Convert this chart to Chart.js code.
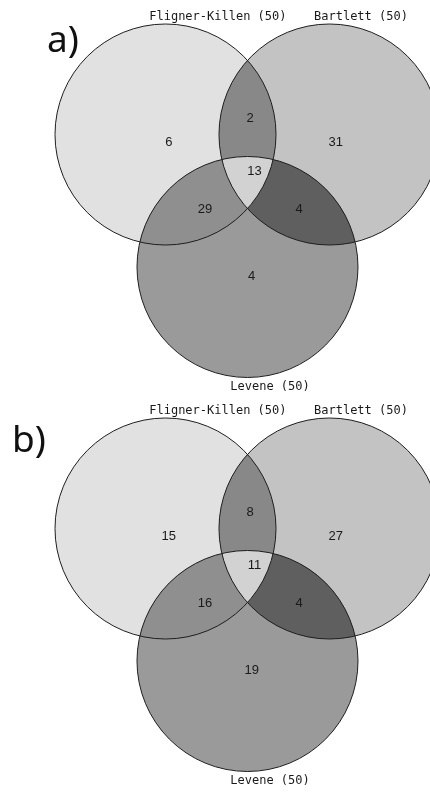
<!DOCTYPE html>
<html>
<head>
<meta charset="utf-8">
<script src="https://cdn.jsdelivr.net/npm/chart.js@4/dist/chart.umd.min.js"></script>
<style>
  html, body { margin: 0; padding: 0; background: #fff; }
  #wrap { position: relative; width: 430px; height: 793px; overflow: hidden; }
  canvas { position: absolute; left: 0; }
</style>
</head>
<body>
<div id="wrap">
  <canvas id="vennA" width="430" height="396" style="top:0px"></canvas>
  <canvas id="vennB" width="430" height="397" style="top:396px"></canvas>
</div>
<script>
// sets and region counts
const setNames = ['Fligner-Killen (50)', 'Bartlett (50)', 'Levene (50)'];
const regionNames = ['FK', 'B', 'L', 'FK+B', 'FK+L', 'B+L', 'FK+B+L'];
const countsA = [6, 31, 4, 2, 29, 4, 13];
const countsB = [15, 27, 19, 8, 16, 4, 11];
const panelTitles = ['a)', 'b)'];

// which circles each region lies in
const regionMasks = [[1,0,0],[0,1,0],[0,0,1],[1,1,0],[1,0,1],[0,1,1],[1,1,1]];
const regionColors = ['#e1e1e1', '#c3c3c3', '#9a9a9a', '#888888', '#8f8f8f', '#5f5f5f', '#d2d2d2'];

// venn layout in circle-radius units
const layout = {
  centers: [[0, 0], [1.484, 0], [0.742, -1.199]],
  radius: 1,
  spots: [[0.03, -0.075], [1.54, -0.075], [0.78, -1.28], [0.765, 0.15], [0.357, -0.68], [1.21, -0.68], [0.805, -0.33]],
  labels: [[0.474, 1.068], [1.769, 1.068], [0.946, -2.28]]
};

const pxPerUnit = 110.5;

const vennPlugin = {
  id: 'venn',
  beforeDatasetsDraw(chart) {
    const { ctx, scales: { x, y } } = chart;
    const r = x.getPixelForValue(layout.radius) - x.getPixelForValue(0);
    const circle = (i) => {
      ctx.beginPath();
      ctx.arc(x.getPixelForValue(layout.centers[i][0]), y.getPixelForValue(layout.centers[i][1]), r, 0, Math.PI * 2);
    };
    // singles first, then overlaps painted on top
    const order = [0, 1, 2, 3, 4, 5, 6];
    order.forEach(k => {
      ctx.save();
      regionMasks[k].forEach((m, i) => { if (m) { circle(i); ctx.clip(); } });
      ctx.fillStyle = regionColors[k];
      ctx.fillRect(0, 0, chart.width, chart.height);
      ctx.restore();
    });
    ctx.save();
    ctx.strokeStyle = '#1e1e1e';
    ctx.lineWidth = 1;
    for (let i = 0; i < 3; i++) { circle(i); ctx.stroke(); }
    // set names
    ctx.fillStyle = '#1a1a1a';
    ctx.font = '12px "DejaVu Sans Mono"';
    ctx.textAlign = 'center';
    ctx.textBaseline = 'middle';
    setNames.forEach((s, i) => {
      ctx.fillText(s, x.getPixelForValue(layout.labels[i][0]), y.getPixelForValue(layout.labels[i][1]));
    });
    // panel letter
    const t = chart.options.plugins.venn;
    ctx.font = '37px "Noto Sans"';
    ctx.textAlign = 'left';
    ctx.textBaseline = 'alphabetic';
    ctx.fillStyle = '#111';
    ctx.fillText(t.title, t.titleX, t.titleY);
    ctx.restore();
  },
  afterDatasetsDraw(chart) {
    const { ctx } = chart;
    const meta = chart.getDatasetMeta(0);
    const ds = chart.data.datasets[0];
    ctx.save();
    ctx.fillStyle = '#1a1a1a';
    ctx.font = '13px "Liberation Sans"';
    ctx.textAlign = 'center';
    ctx.textBaseline = 'middle';
    meta.data.forEach((pt, i) => {
      ctx.fillText(String(ds.data[i].v), pt.x, pt.y);
    });
    ctx.restore();
  }
};

function makeVenn(id, counts, title, centerY, titleX, titleY) {
  const c = document.getElementById(id);
  const xMin = -165.5 / pxPerUnit;
  const yMax = centerY / pxPerUnit;
  new Chart(c.getContext('2d'), {
    type: 'scatter',
    data: {
      datasets: [{
        label: 'regions',
        data: counts.map((v, i) => ({ x: layout.spots[i][0], y: layout.spots[i][1], v: v, name: regionNames[i] })),
        pointRadius: 0,
        pointHoverRadius: 0
      }]
    },
    options: {
      responsive: false,
      animation: false,
      layout: { padding: 0 },
      scales: {
        x: { type: 'linear', display: false, min: xMin, max: xMin + c.width / pxPerUnit },
        y: { type: 'linear', display: false, min: yMax - c.height / pxPerUnit, max: yMax }
      },
      plugins: {
        legend: { display: false },
        tooltip: { enabled: false },
        venn: { title: title, titleX: titleX, titleY: titleY }
      }
    },
    plugins: [vennPlugin]
  });
}

makeVenn('vennA', countsA, panelTitles[0], 134.5, 47, 52);
makeVenn('vennB', countsB, panelTitles[1], 132.5, 12, 56);
</script>
</body>
</html>
